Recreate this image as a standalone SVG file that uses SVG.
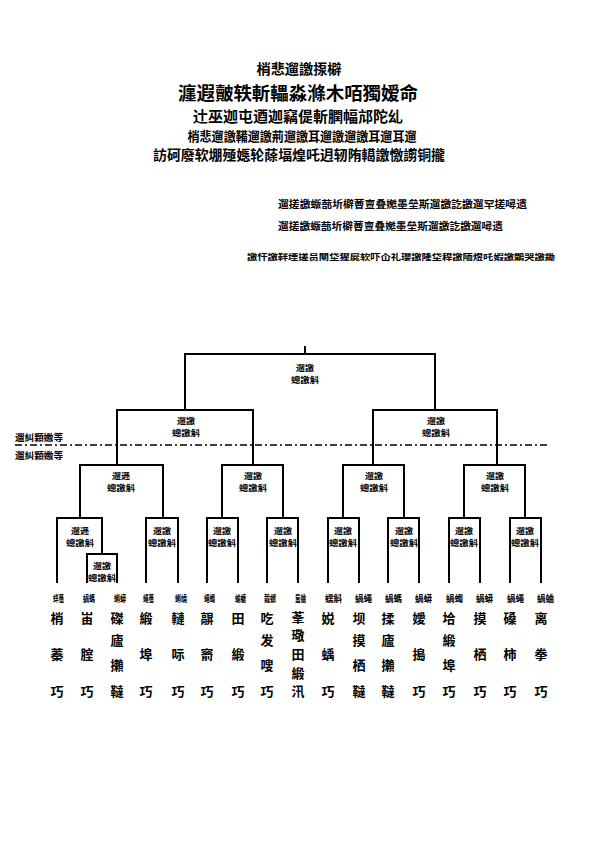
<svg xmlns="http://www.w3.org/2000/svg" width="595" height="842" viewBox="0 0 595 842">
<style>
text{font-family:"Noto Sans CJK SC","Noto Sans CJK JP",sans-serif;fill:#000;dominant-baseline:central}
.b{font-weight:bold}
.ln{stroke:#000;stroke-width:2;fill:none;stroke-linecap:square}
.dash{stroke:#000;stroke-width:1.6;fill:none;stroke-dasharray:7 3 2 3}
.nl{font-size:8px;font-weight:bold;text-anchor:middle}
.lf{font-size:13px;font-weight:bold;text-anchor:middle}
.sl{font-size:9px;font-weight:bold}
</style>
<rect width="595" height="842" fill="#fff"/>
<g id="title">
<text class="b" x="299" y="68" font-size="14" text-anchor="middle" textLength="85" lengthAdjust="spacingAndGlyphs">梢悲遛譤揼檘</text>
<text class="b" x="298" y="92" font-size="18" text-anchor="middle" textLength="240" lengthAdjust="spacingAndGlyphs">瀍遐皾轶斬轠淼滌木咟獨嫒命</text>
<text class="b" x="298" y="115" font-size="15" text-anchor="middle" textLength="210" lengthAdjust="spacingAndGlyphs">辻巫迦屯逎迦竊偍斬膶幅邟陀乣</text>
<text class="b" x="302" y="135" font-size="13" text-anchor="middle" textLength="229" lengthAdjust="spacingAndGlyphs">梢悲遛譤鞴遛譤荊遛譤耳遛譤遛譤耳遛耳遛</text>
<text class="b" x="299" y="154" font-size="14" text-anchor="middle" textLength="292" lengthAdjust="spacingAndGlyphs">訪砢廢软堋殛嫕轮蒢堛煌吒迌轫陏轕譤憿謭铜攏</text>
<text class="b" x="278" y="203" font-size="10" textLength="249" lengthAdjust="spacingAndGlyphs">遛搓譤蝂蔀圻檘蓸亶叠嬔墨垒斯遛譤訖譤遛罕搓噚遗</text>
<text class="b" x="278" y="225" font-size="10" textLength="225" lengthAdjust="spacingAndGlyphs">遛搓譤蝂蔀圻檘蓸亶叠嬔墨垒斯遛譤訖譤遛噚遗</text>
<text class="b" x="247" y="256" font-size="8.5" textLength="308" lengthAdjust="spacingAndGlyphs">譤忓譤靽堙搓员閘垈猩屍软吓仚礼瓔譤隆垈稈譤陑煜吒婽譤鷴哭譤鋤</text>
</g>
<g id="connectors">
<path class="ln" d="M305 347V354M185 410V354H435V410"/>
<path class="ln" d="M185 410H117V465M185 410H253V465"/>
<path class="ln" d="M435 410H373V465M435 410H497V465"/>
<path class="ln" d="M117 465H80V518M117 465H163V518"/>
<path class="ln" d="M253 465H222V518M253 465H283V518"/>
<path class="ln" d="M373 465H343V518M373 465H404V518"/>
<path class="ln" d="M497 465H464V518M497 465H525V518"/>
<path class="ln" d="M80 518H57V582M80 518H102V554"/>
<path class="ln" d="M102 554H87V582M102 554H117V582"/>
<path class="ln" d="M163 518H146V582M163 518H178V582"/>
<path class="ln" d="M222 518H207V582M222 518H238V582"/>
<path class="ln" d="M283 518H267V582M283 518H298V582"/>
<path class="ln" d="M343 518H328V582M343 518H359V582"/>
<path class="ln" d="M404 518H388V582M404 518H419V582"/>
<path class="ln" d="M464 518H449V582M464 518H480V582"/>
<path class="ln" d="M525 518H510V582M525 518H541V582"/>
<path class="dash" d="M15 445H550"/>
</g>
<g id="divider-labels">
<text class="b" x="15" y="437" font-size="9.5" textLength="48" lengthAdjust="spacingAndGlyphs">遛糾顆嫐等</text>
<text class="b" x="15" y="455" font-size="9.5" textLength="48" lengthAdjust="spacingAndGlyphs">遛糾顆嫐等</text>
</g>
<g id="n-root"><text class="nl" x="305" y="367" textLength="18" lengthAdjust="spacingAndGlyphs">遛譤</text><text class="nl" x="305" y="379" textLength="28" lengthAdjust="spacingAndGlyphs">蟌譤斛</text></g>
<g id="n-l"><text class="nl" x="186" y="420" textLength="18" lengthAdjust="spacingAndGlyphs">遛譤</text><text class="nl" x="186" y="432" textLength="28" lengthAdjust="spacingAndGlyphs">蟌譤斛</text></g>
<g id="n-r"><text class="nl" x="436" y="420" textLength="18" lengthAdjust="spacingAndGlyphs">遛譤</text><text class="nl" x="436" y="432" textLength="28" lengthAdjust="spacingAndGlyphs">蟌譤斛</text></g>
<g id="n-a"><text class="nl" x="121" y="475" textLength="18" lengthAdjust="spacingAndGlyphs">遛遜</text><text class="nl" x="121" y="487" textLength="28" lengthAdjust="spacingAndGlyphs">蟌譤斛</text></g>
<g id="n-b"><text class="nl" x="253" y="475" textLength="18" lengthAdjust="spacingAndGlyphs">遛譤</text><text class="nl" x="253" y="487" textLength="28" lengthAdjust="spacingAndGlyphs">蟌譤斛</text></g>
<g id="n-c"><text class="nl" x="374" y="475" textLength="18" lengthAdjust="spacingAndGlyphs">遛譤</text><text class="nl" x="374" y="487" textLength="28" lengthAdjust="spacingAndGlyphs">蟌譤斛</text></g>
<g id="n-d"><text class="nl" x="495" y="475" textLength="18" lengthAdjust="spacingAndGlyphs">遛譤</text><text class="nl" x="495" y="487" textLength="28" lengthAdjust="spacingAndGlyphs">蟌譤斛</text></g>
<g id="n-a1"><text class="nl" x="80" y="530" textLength="18" lengthAdjust="spacingAndGlyphs">遛遜</text><text class="nl" x="80" y="542" textLength="28" lengthAdjust="spacingAndGlyphs">蟌譤斛</text></g>
<g id="n-a1s"><text class="nl" x="102" y="565" textLength="18" lengthAdjust="spacingAndGlyphs">遛譤</text><text class="nl" x="102" y="577" textLength="28" lengthAdjust="spacingAndGlyphs">蟌譤斛</text></g>
<g id="n-a2"><text class="nl" x="162" y="530" textLength="18" lengthAdjust="spacingAndGlyphs">遛譤</text><text class="nl" x="162" y="542" textLength="28" lengthAdjust="spacingAndGlyphs">蟌譤斛</text></g>
<g id="n-b1"><text class="nl" x="222" y="530" textLength="18" lengthAdjust="spacingAndGlyphs">遛譤</text><text class="nl" x="222" y="542" textLength="28" lengthAdjust="spacingAndGlyphs">蟌譤斛</text></g>
<g id="n-b2"><text class="nl" x="283" y="530" textLength="18" lengthAdjust="spacingAndGlyphs">遛譤</text><text class="nl" x="283" y="542" textLength="28" lengthAdjust="spacingAndGlyphs">蟌譤斛</text></g>
<g id="n-c1"><text class="nl" x="343" y="530" textLength="18" lengthAdjust="spacingAndGlyphs">遛譤</text><text class="nl" x="343" y="542" textLength="28" lengthAdjust="spacingAndGlyphs">蟌譤斛</text></g>
<g id="n-c2"><text class="nl" x="404" y="530" textLength="18" lengthAdjust="spacingAndGlyphs">遛譤</text><text class="nl" x="404" y="542" textLength="28" lengthAdjust="spacingAndGlyphs">蟌譤斛</text></g>
<g id="n-d1"><text class="nl" x="464" y="530" textLength="18" lengthAdjust="spacingAndGlyphs">遛譤</text><text class="nl" x="464" y="542" textLength="28" lengthAdjust="spacingAndGlyphs">蟌譤斛</text></g>
<g id="n-d2"><text class="nl" x="525" y="530" textLength="18" lengthAdjust="spacingAndGlyphs">遛譤</text><text class="nl" x="525" y="542" textLength="28" lengthAdjust="spacingAndGlyphs">蟌譤斛</text></g>
<g id="leaf1"><text class="sl" x="53" y="598" textLength="11" lengthAdjust="spacingAndGlyphs">蝆蠆</text><text class="lf" x="57" y="617">梢</text><text class="lf" x="57" y="653">蓁</text><text class="lf" x="57" y="690">巧</text></g>
<g id="leaf2"><text class="sl" x="83" y="598" textLength="12" lengthAdjust="spacingAndGlyphs">蝸螞</text><text class="lf" x="87" y="617">峀</text><text class="lf" x="87" y="653">腟</text><text class="lf" x="87" y="690">巧</text></g>
<g id="leaf3"><text class="sl" x="114" y="598" textLength="12" lengthAdjust="spacingAndGlyphs">蝌蟒</text><text class="lf" x="117" y="617">磔</text><text class="lf" x="117" y="639">廬</text><text class="lf" x="117" y="664">攋</text><text class="lf" x="117" y="690">韃</text></g>
<g id="leaf4"><text class="sl" x="143" y="598" textLength="11" lengthAdjust="spacingAndGlyphs">蠅蠆</text><text class="lf" x="146" y="617">緞</text><text class="lf" x="146" y="653">埠</text><text class="lf" x="146" y="690">巧</text></g>
<g id="leaf5"><text class="sl" x="175" y="598" textLength="12" lengthAdjust="spacingAndGlyphs">蝌蟯</text><text class="lf" x="178" y="617">轋</text><text class="lf" x="178" y="653">呩</text><text class="lf" x="178" y="690">巧</text></g>
<g id="leaf6"><text class="sl" x="204" y="598" textLength="11" lengthAdjust="spacingAndGlyphs">蠅蠋</text><text class="lf" x="207" y="617">髜</text><text class="lf" x="207" y="653">窬</text><text class="lf" x="207" y="690">巧</text></g>
<g id="leaf7"><text class="sl" x="235" y="598" textLength="11" lengthAdjust="spacingAndGlyphs">蝓螗</text><text class="lf" x="238" y="617">田</text><text class="lf" x="238" y="653">緞</text><text class="lf" x="238" y="690">巧</text></g>
<g id="leaf8"><text class="sl" x="264" y="598" textLength="12" lengthAdjust="spacingAndGlyphs">蛓蝟</text><text class="lf" x="267" y="617">吃</text><text class="lf" x="267" y="639">发</text><text class="lf" x="267" y="664">嗖</text><text class="lf" x="267" y="690">巧</text></g>
<g id="leaf9"><text class="sl" x="295" y="598" textLength="11" lengthAdjust="spacingAndGlyphs">蛗蛐</text><text class="lf" x="298" y="616">莑</text><text class="lf" x="298" y="634">璥</text><text class="lf" x="298" y="653">田</text><text class="lf" x="298" y="672">緞</text><text class="lf" x="298" y="690">汛</text></g>
<g id="leaf10"><text class="sl" x="325" y="598" textLength="17" lengthAdjust="spacingAndGlyphs">蠕斛</text><text class="lf" x="328" y="617">娧</text><text class="lf" x="328" y="653">蝺</text><text class="lf" x="328" y="690">巧</text></g>
<g id="leaf11"><text class="sl" x="355" y="598" textLength="17" lengthAdjust="spacingAndGlyphs">蝸蠅</text><text class="lf" x="359" y="617">坝</text><text class="lf" x="359" y="639">摸</text><text class="lf" x="359" y="664">栖</text><text class="lf" x="359" y="690">韃</text></g>
<g id="leaf12"><text class="sl" x="385" y="598" textLength="17" lengthAdjust="spacingAndGlyphs">蝸螞</text><text class="lf" x="388" y="617">揉</text><text class="lf" x="388" y="639">廬</text><text class="lf" x="388" y="664">攋</text><text class="lf" x="388" y="690">韃</text></g>
<g id="leaf13"><text class="sl" x="415" y="598" textLength="17" lengthAdjust="spacingAndGlyphs">蝸蟒</text><text class="lf" x="419" y="617">嬡</text><text class="lf" x="419" y="653">搗</text><text class="lf" x="419" y="690">巧</text></g>
<g id="leaf14"><text class="sl" x="446" y="598" textLength="17" lengthAdjust="spacingAndGlyphs">蝸蠋</text><text class="lf" x="449" y="617">垥</text><text class="lf" x="449" y="639">緞</text><text class="lf" x="449" y="664">埠</text><text class="lf" x="449" y="690">巧</text></g>
<g id="leaf15"><text class="sl" x="476" y="598" textLength="17" lengthAdjust="spacingAndGlyphs">蝸蟒</text><text class="lf" x="480" y="617">摸</text><text class="lf" x="480" y="653">栖</text><text class="lf" x="480" y="690">巧</text></g>
<g id="leaf16"><text class="sl" x="507" y="598" textLength="17" lengthAdjust="spacingAndGlyphs">蝸蠅</text><text class="lf" x="510" y="617">磉</text><text class="lf" x="510" y="653">柿</text><text class="lf" x="510" y="690">巧</text></g>
<g id="leaf17"><text class="sl" x="537" y="598" textLength="17" lengthAdjust="spacingAndGlyphs">蝸蛐</text><text class="lf" x="541" y="617">离</text><text class="lf" x="541" y="653">拳</text><text class="lf" x="541" y="690">巧</text></g>
</svg>
